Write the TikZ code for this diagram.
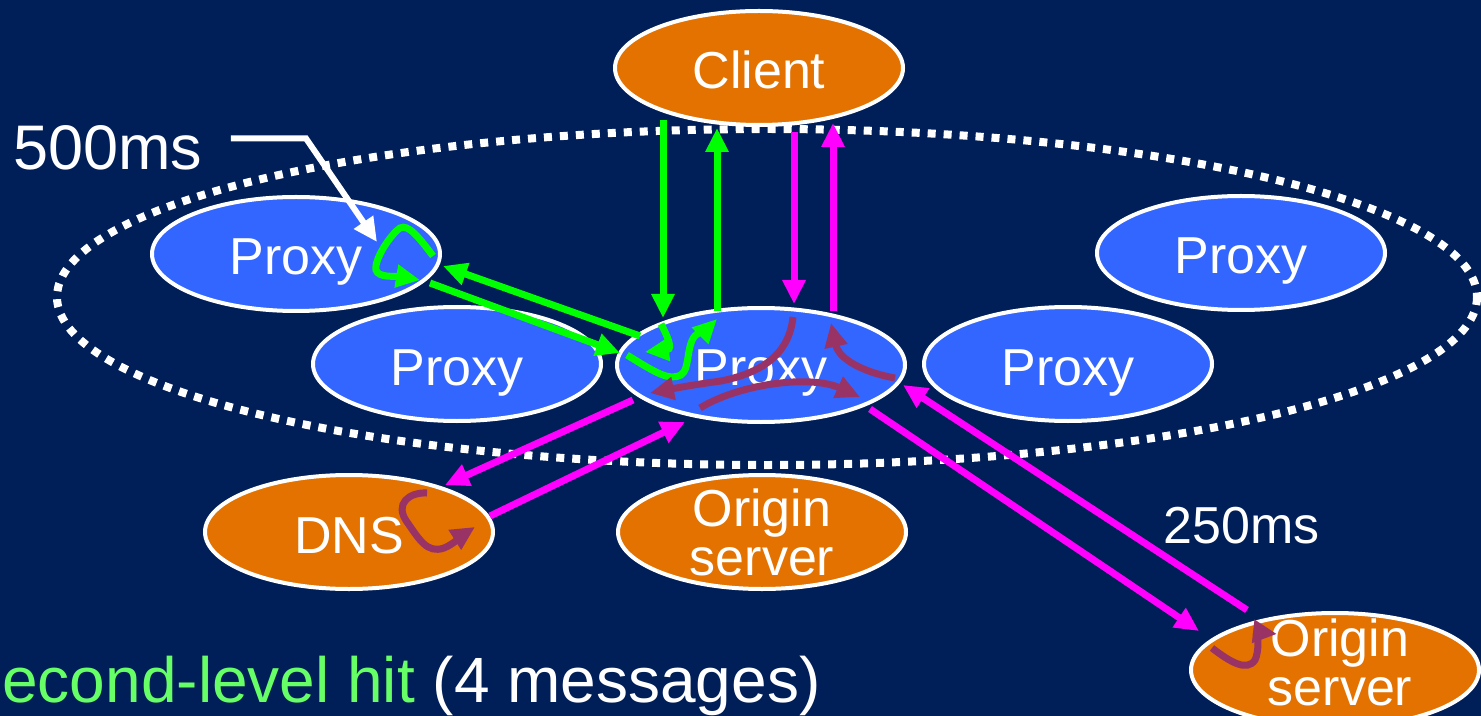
\documentclass[tikz,border=0pt]{standalone}
\usepackage{fontspec}
\setmainfont{Liberation Sans}
\usetikzlibrary{arrows.meta,shapes.geometric,calc}
\definecolor{navy}{RGB}{0,30,88}
\definecolor{proxyblue}{RGB}{51,102,255}
\definecolor{hostorange}{RGB}{227,114,0}
\definecolor{hitgreen}{RGB}{0,255,0}
\definecolor{missmagenta}{RGB}{255,0,255}
\definecolor{workmaroon}{RGB}{153,51,102}
\definecolor{captiongreen}{RGB}{102,255,102}

\begin{document}
\begin{tikzpicture}[x=0.5pt,y=-0.5pt,
  host/.style={ellipse, draw=white, line width=2pt, minimum width=144pt,
    minimum height=57pt, inner sep=-8pt, text=white, align=center,
    font=\fontsize{26pt}{24.5pt}\selectfont},
  oneline/.style={text height=21pt, text depth=0pt},
  proxy/.style={host, oneline, fill=proxyblue},
  server/.style={host, fill=hostorange},
  msg/.style={line width=3.5pt, -{Triangle[length=12pt,width=11pt]}},
  greenmsg/.style={msg, hitgreen},
  pinkmsg/.style={msg, missmagenta},
  work/.style={msg, workmaroon},
  caption/.style={text=white, inner sep=0pt, anchor=base west},
  cluster/.style={white, line width=4pt, dash pattern=on 4pt off 4pt}
]
% background and page frame
\fill[navy] (0,0) rectangle (1481,716);
\useasboundingbox (0,0) rectangle (1481,716);

% the proxy cluster
\draw[cluster] (767,297) ellipse [x radius=710, y radius=168];

% hosts
\node[server, oneline] (client) at (759,68) {Client};
\node[proxy] (p1) at (296,254) {Proxy};
\node[proxy] (p2) at (457,364) {Proxy};
\node[proxy] (p3) at (761,365) {Proxy};
\node[proxy] (p4) at (1068,364) {Proxy};
\node[proxy] (p5) at (1241,253) {Proxy};
\node[server, oneline] (dns) at (349,532) {DNS};
\node[server] (org1) at (762,532) {Origin\\server};
\node[server] (org2) at (1335,670) {};
\node[caption, anchor=center, align=center,
  font=\fontsize{26pt}{24.5pt}\selectfont] (org2txt) at (1340,662) {Origin\\server};

% client <-> first proxy
\draw[greenmsg] ($(client)+(-96,52)$) -- ($(p3)+(-98,-47)$);
\draw[greenmsg] ($(p3)+(-44,-54)$) -- ($(client)+(-42,60)$);
\draw[pinkmsg] ($(client)+(35,64)$) -- ($(p3)+(33,-61)$);
\draw[pinkmsg] ($(p3)+(72,-54)$) -- ($(client)+(74,55)$);

% second-level proxy
\draw[greenmsg] ($(p1)+(134,29)$) -- ($(p3)+(-141,-12)$);
\draw[greenmsg] ($(p3)+(-121,-29)$) -- ($(p1)+(147,12)$);

% DNS lookup
\draw[pinkmsg] ($(p3)+(-128,35)$) -- ($(dns)+(96,-47)$);
\draw[pinkmsg] ($(dns)+(141,-16)$) -- ($(p3)+(-76,57)$);

% origin server
\draw[pinkmsg] ($(p3)+(109,44)$) -- ($(org2)+(-136,-39)$);
\draw[pinkmsg] ($(org2)+(-88,-60)$) -- ($(p3)+(142,20)$);

% processing inside the hosts
\begin{scope}[shift={(p1.center)}]
  \draw[greenmsg] (137,2) .. controls (122,-18) and (112,-30) .. (104,-26)
    .. controls (95,-20) and (78,5) .. (80,16)
    .. controls (82,24) and (100,22) .. (124,26);
\end{scope}
\begin{scope}[shift={(p3.center)}]
  \draw[greenmsg] (-100,-41) .. controls (-94,-30) and (-88,-16) .. (-116,-13);
  \draw[greenmsg] (-134,-10) .. controls (-105,8) and (-92,16) .. (-80,10)
    .. controls (-70,4) and (-76,-26) .. (-62,-32)
    .. controls (-56,-35) and (-50,-40) .. (-44,-46);
  \draw[work] (32,-48) .. controls (28,-10) and (0,8) .. (-40,16)
    .. controls (-70,20) and (-90,24) .. (-111,28);
  \draw[work] (-61,43) .. controls (-20,18) and (50,10) .. (99,32);
  \draw[work] (134,13) .. controls (105,8) and (78,-5) .. (70,-42);
\end{scope}
\begin{scope}[shift={(dns.center)}]
  \draw[work] (78,-39) .. controls (60,-40) and (45,-28) .. (58,-10)
    .. controls (70,7) and (78,22) .. (95,16)
    .. controls (105,12) and (115,2) .. (126,-5);
\end{scope}
\begin{scope}[shift={(org2.center)}]
  \draw[work] (-123,-22) .. controls (-105,-8) and (-88,2) .. (-80,-10)
    .. controls (-76,-18) and (-76,-38) .. (-58,-36);
\end{scope}

% latency labels
\node[caption, font=\fontsize{31.5pt}{36pt}\selectfont] (t500) at (13,170) {500ms};
\draw[white, line width=3pt, -{Triangle[length=12pt,width=11pt]}]
  ($(t500.east)+(28,-10)$) -- ++(75,0) -- ($(p1)+(81,-12)$);
\node[caption, font=\fontsize{26pt}{30pt}\selectfont] (t250) at (1163,543) {250ms};

% caption
\node[caption, font=\fontsize{32pt}{36pt}\selectfont] (cap) at (2,702)
  {\textcolor{captiongreen}{econd-level hit} (4 messages)};
\end{tikzpicture}
\end{document}
